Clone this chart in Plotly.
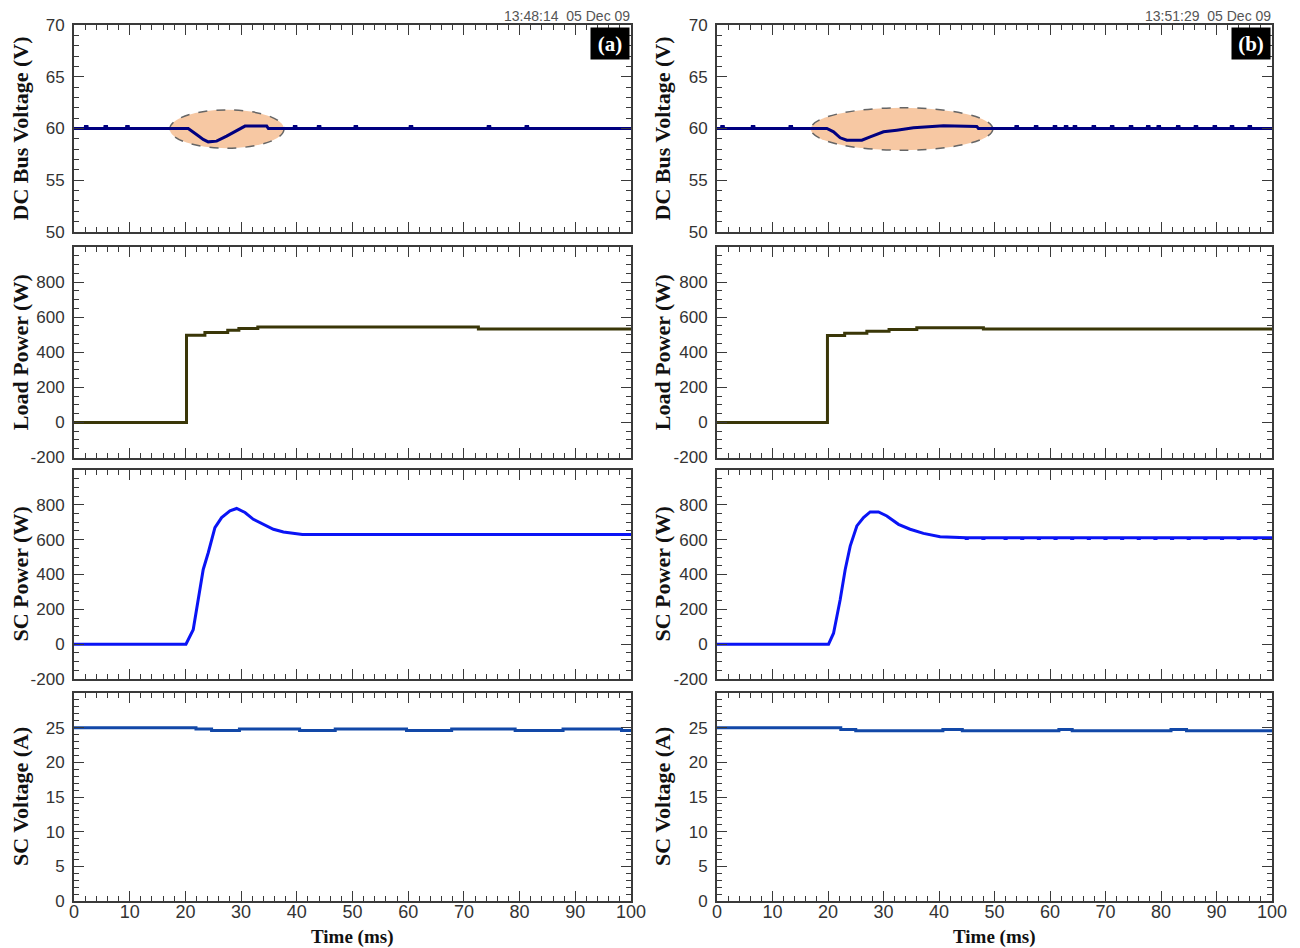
import plotly.graph_objects as go

# the page places the figure 8px from the window's top-left corner
OFF = 8
W, H = 1300 - OFF, 948 - OFF

# ---------------- data ----------------
# DC bus voltage, case (a)
dc_a_t = [0, 20.5, 22.0, 23.2, 24.1, 25.6, 27.4, 29.2, 30.7, 34.6, 34.9, 100]
dc_a_v = [60, 60, 59.42, 58.94, 58.71, 58.78, 59.26, 59.75, 60.23, 60.23, 60.0, 60]
dc_a_blips = [2.2, 5.7, 9.6, 39.7, 44.0, 50.6, 60.5, 74.5, 81.3]

# DC bus voltage, case (b)
dc_b_t = [0, 19.8, 21.0, 22.2, 23.4, 26.1, 27.6, 30.0, 32.4, 35.4, 40.8, 43.2, 46.8, 47.1, 100]
dc_b_v = [60, 60, 59.68, 59.1, 58.87, 58.87, 59.2, 59.68, 59.84, 60.07, 60.26, 60.25, 60.2, 60.0, 60]
dc_b_blips = [1.0, 6.5, 13.3, 54.0, 57.5, 60.9, 62.9, 64.5, 67.9, 71.2, 74.6, 77.7,
              79.6, 83.1, 86.3, 89.7, 92.8, 96.0]
blip_height = 0.2

# Load power (step traces)
load_a_t = [0, 20.2, 23.5, 27.6, 29.6, 33.0, 72.6, 100]
load_a_v = [0, 497, 512, 525, 535, 544, 533, 533]
load_b_t = [0, 19.9, 23.0, 27.0, 31.0, 36.0, 48.0, 100]
load_b_v = [0, 495, 508, 520, 530, 540, 532, 532]

# SC power
sc_a_t = [0, 20.1, 21.4, 22.3, 23.2, 24.1, 25.3, 26.5, 28.0, 29.2, 30.7, 32.2, 34.0,
          35.8, 37.6, 39.4, 41.0, 100]
sc_a_v = [0, 0, 83, 255, 429, 525, 669, 727, 765, 779, 756, 717, 688, 660, 644, 636, 630, 630]
sc_b_t = [0, 20.1, 21.0, 22.2, 23.1, 24.0, 25.2, 26.4, 27.6, 29.1, 30.6, 32.7, 34.8,
          37.2, 40.2, 43.2, 100]
sc_b_v = [0, 0, 63, 256, 429, 563, 679, 727, 759, 759, 736, 688, 660, 636, 617, 611, 611]
sc_b_dips = [45, 48, 52, 55, 58, 61, 64, 67, 70, 73, 76, 79, 82, 85, 88, 91, 94, 97]
dip_depth = -5

# SC voltage (step traces)
scv_a_t = [0, 21.9, 24.7, 29.7, 40.5, 46.9, 59.7, 67.8, 79.2, 87.8, 98.3, 100]
scv_a_v = [25.0, 24.8, 24.6, 24.8, 24.6, 24.8, 24.6, 24.8, 24.6, 24.8, 24.6, 24.6]
scv_b_t = [0, 22.3, 25.0, 40.7, 44.2, 61.6, 64.0, 81.8, 84.6, 100]
scv_b_v = [25.0, 24.75, 24.55, 24.75, 24.55, 24.75, 24.55, 24.75, 24.55, 24.55]

# highlighted regions (x0, x1, y0, y1)
hl_a = [17.2, 37.7, 58.1, 61.8]
hl_b = [16.9, 49.7, 57.9, 62.0]

timestamps = ["13:48:14  05 Dec 09", "13:51:29  05 Dec 09"]
tags = ["(a)", "(b)"]
ytitles = ["DC Bus Voltage (V)", "Load Power (W)", "SC Power (W)", "SC Voltage (A)"]
xtitle = "Time (ms)"
ytickvals = [[50, 55, 60, 65, 70], [-200, 0, 200, 400, 600, 800],
             [-200, 0, 200, 400, 600, 800], [0, 5, 10, 15, 20, 25]]
xtickvals = [0, 10, 20, 30, 40, 50, 60, 70, 80, 90, 100]


def with_blips(t, v, blips, h):
    pts = list(zip(t, v))
    for b in blips:
        base = None
        for i in range(len(t) - 1):
            if t[i] <= b <= t[i + 1]:
                base = v[i]
        pts += [(b - 0.2, base), (b - 0.15, base + h), (b + 0.15, base + h), (b + 0.2, base)]
    pts.sort()
    return [p[0] for p in pts], [p[1] for p in pts]


def px(x):
    return (x - OFF) / W


def py(y):
    return 1 - (y - OFF) / H


# ---------------- layout geometry (window pixels) ----------------
xpix = [(74, 631), (717, 1272)]
ypix = [(25, 232), (247, 457.5), (470, 679), (693, 901)]
xdom = [[px(a), px(b)] for a, b in xpix]
ydom = [[py(b), py(t)] for t, b in ypix]

yranges = [[50, 70], [-200, 1000], [-200, 1000], [0, 30]]
yminor = [1, 50, 50, 1]

fig = go.Figure()

series = {
    (0, 0): (with_blips(dc_a_t, dc_a_v, dc_a_blips, blip_height), "#000080", "linear"),
    (0, 1): (with_blips(dc_b_t, dc_b_v, dc_b_blips, blip_height), "#000080", "linear"),
    (1, 0): ((load_a_t, load_a_v), "#3a3708", "hv"),
    (1, 1): ((load_b_t, load_b_v), "#3a3708", "hv"),
    (2, 0): ((sc_a_t, sc_a_v), "#0a14f5", "linear"),
    (2, 1): (with_blips(sc_b_t, sc_b_v, sc_b_dips, dip_depth), "#0a14f5", "linear"),
    (3, 0): ((scv_a_t, scv_a_v), "#1248a8", "hv"),
    (3, 1): ((scv_b_t, scv_b_v), "#1248a8", "hv"),
}

ytickfont = dict(family="Liberation Sans, Arial, sans-serif", size=17, color="#333333")
xtickfont = dict(family="Liberation Sans, Arial, sans-serif", size=18, color="#333333")
framecol = "#3a3a3a"

for c in range(2):
    for r in range(4):
        k = c * 4 + r + 1
        xa = "x" if k == 1 else f"x{k}"
        ya = "y" if k == 1 else f"y{k}"
        (tx, vy), col, shape = series[(r, c)]
        fig.add_trace(go.Scatter(x=tx, y=vy, mode="lines", line=dict(color=col, width=3, shape=shape),
                                 xaxis=xa, yaxis=ya, showlegend=False, hoverinfo="skip"))
        fig.layout[f"xaxis{k}"] = dict(
            domain=xdom[c], anchor=ya, range=[0, 100], tickmode="array", tickvals=xtickvals,
            ticktext=[str(v) for v in xtickvals],
            ticks="inside", ticklen=10, tickwidth=1.3, tickcolor=framecol,
            minor=dict(dtick=2, tick0=0, ticks="inside", ticklen=5, tickwidth=1, tickcolor=framecol),
            showline=True, linecolor=framecol, linewidth=2, mirror="ticks", automargin=False,
            showgrid=False, zeroline=False, showticklabels=(r == 3), tickfont=xtickfont,
            ticklabelstandoff=-7, fixedrange=True)
        fig.layout[f"yaxis{k}"] = dict(
            domain=ydom[r], anchor=xa, range=yranges[r], tickmode="array", tickvals=ytickvals[r],
            ticktext=[str(v) for v in ytickvals[r]],
            ticks="inside", ticklen=10, tickwidth=1.3, tickcolor=framecol,
            minor=dict(dtick=yminor[r], tick0=0, ticks="inside", ticklen=5, tickwidth=1, tickcolor=framecol),
            showline=True, linecolor=framecol, linewidth=2, mirror="ticks", automargin=False,
            showgrid=False, zeroline=False, tickfont=ytickfont, ticklabelstandoff=4, fixedrange=True)

# highlighted ellipses
for c, hl in enumerate([hl_a, hl_b]):
    k = c * 4 + 1
    xa = "x" if k == 1 else f"x{k}"
    ya = "y" if k == 1 else f"y{k}"
    fig.add_shape(type="circle", xref=xa, yref=ya, x0=hl[0], x1=hl[1], y0=hl[2], y1=hl[3],
                  fillcolor="#f7c39a", opacity=0.9, line=dict(color="#555555", width=1.5, dash="dash"),
                  layer="below")

ann = []
title_font = dict(family="Liberation Serif, Times New Roman, serif", size=22, color="#111111")
for c in range(2):
    xl = [20, 662][c]
    for r in range(4):
        yc = py((ypix[r][0] + ypix[r][1]) / 2)
        ann.append(dict(text=f"<b>{ytitles[r]}</b>", x=px(xl), y=yc, xref="paper", yref="paper",
                        textangle=-90, showarrow=False, xanchor="center", yanchor="middle",
                        font=title_font))
    xr = xdom[c][1]
    ann.append(dict(text=timestamps[c], x=xr, y=py(25), xref="paper", yref="paper",
                    showarrow=False, xanchor="right", yanchor="bottom", borderpad=0,
                    font=dict(family="Liberation Sans, Arial, sans-serif", size=14, color="#555555")))
    ann.append(dict(text=f"<b>{tags[c]}</b>", x=px(xpix[c][1] - 1), y=py(27), xref="paper", yref="paper",
                    showarrow=False, xanchor="right", yanchor="top", bgcolor="#000000",
                    width=34, height=27, borderpad=2,
                    font=dict(family="Liberation Serif, Times New Roman, serif", size=21, color="#ffffff")))
    xc = (xdom[c][0] + xdom[c][1]) / 2
    ann.append(dict(text=f"<b>{xtitle}</b>", x=xc, y=py(937), xref="paper", yref="paper",
                    showarrow=False, xanchor="center", yanchor="middle",
                    font=dict(family="Liberation Serif, Times New Roman, serif", size=19, color="#111111")))

fig.update_layout(template="none", width=W, height=H, autosize=False,
                  margin=dict(l=0, r=0, t=0, b=0, pad=0, autoexpand=False),
                  paper_bgcolor="white", plot_bgcolor="white", annotations=ann, showlegend=False)

fig.write_html("out.html")
